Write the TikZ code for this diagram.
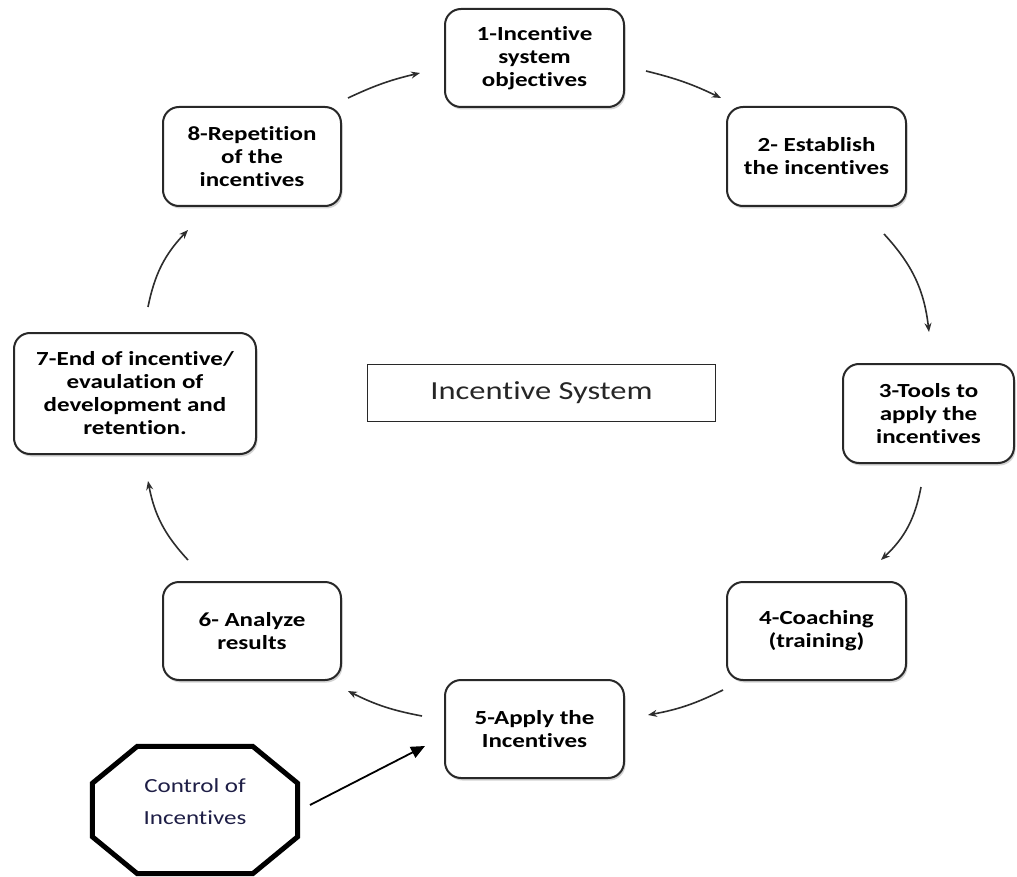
\documentclass[tikz,border=0pt]{standalone}
\usepackage{fontspec}
\setmainfont{Carlito}[FakeStretch=1.25,Ligatures=NoCommon]
\usetikzlibrary{arrows.meta,shadows}
\definecolor{boxline}{RGB}{40,40,40}
\definecolor{arrowcol}{RGB}{45,45,45}
\definecolor{ctrltext}{RGB}{30,30,70}
\begin{document}
\begin{tikzpicture}[x=1pt,y=-1pt,
  stepbox/.style={draw=boxline, line width=2pt, rounded corners=16pt, fill=white,
    align=center, inner sep=0pt, text=black,
    font=\bfseries\fontsize{20}{23}\selectfont,
    drop shadow={shadow xshift=1.5pt, shadow yshift=-2.5pt, opacity=0.35}},
  titlebox/.style={draw=boxline, line width=1.6pt, fill=white, inner sep=0pt,
    font=\fontsize{26}{30}\selectfont, text=black!85},
  ctrlbox/.style={draw=none, inner sep=0pt, align=center, text=ctrltext,
    font=\fontsize{20}{32}\selectfont},
  octo/.style={draw=black, line width=5pt, line join=miter},
  flow/.style={draw=arrowcol, line width=1.6pt, -{Stealth[length=9pt,width=7pt]}},
  ctrlarrow/.style={draw=black, line width=1.8pt, -{Triangle[length=14pt,width=12pt]}}
]
\useasboundingbox (0,0) rectangle (1017,877);
\fill[white] (0,0) rectangle (1017,877);

% step boxes
\node[stepbox, minimum width=179pt, minimum height=98pt] (b1) at (534.5,58) {1-Incentive\\system\\objectives};
\node[stepbox, minimum width=179pt, minimum height=99pt] (b2) at (816.5,156.5) {2- Establish\\the incentives};
\node[stepbox, minimum width=171pt, minimum height=99pt] (b3) at (928.5,413.5) {3-Tools to\\apply the\\incentives};
\node[stepbox, minimum width=179pt, minimum height=98pt] (b4) at (816.5,631) {4-Coaching\\(training)};
\node[stepbox, minimum width=179pt, minimum height=98pt] (b5) at (534.5,729) {5-Apply the\\Incentives};
\node[stepbox, minimum width=178pt, minimum height=98pt] (b6) at (252,631) {6- Analyze\\results};
\node[stepbox, minimum width=242pt, minimum height=121pt] (b7) at (135,393.5) {7-End of incentive/\\evaulation of\\development and\\retention.};
\node[stepbox, minimum width=178pt, minimum height=99pt] (b8) at (252,156.5) {8-Repetition\\of the\\incentives};

% centre title
\node[titlebox, minimum width=348pt, minimum height=57pt] (title) at (541.5,393) {Incentive System};

% control octagon
\node[ctrlbox, minimum width=205pt, minimum height=127pt] (ctrl) at (195,810) {};
\node[ctrlbox] (ctrltxt) at (195,802) {Control of\\Incentives};
\draw[octo] ([xshift=45pt]ctrl.north west) -- ([xshift=-45pt]ctrl.north east)
  -- ([yshift=-37pt]ctrl.north east) -- ([yshift=37pt]ctrl.south east)
  -- ([xshift=-45pt]ctrl.south east) -- ([xshift=45pt]ctrl.south west)
  -- ([yshift=37pt]ctrl.south west) -- ([yshift=-37pt]ctrl.north west) -- cycle;

% arrow end points
\coordinate (a81s) at (348,98);  \coordinate (a81e) at (420,73);
\coordinate (a12s) at (646,71);  \coordinate (a12e) at (721,98);
\coordinate (a23s) at (884,234); \coordinate (a23e) at (929,332);
\coordinate (a34s) at (921,487); \coordinate (a34e) at (881,560);
\coordinate (a45s) at (723,690); \coordinate (a45e) at (648,715);
\coordinate (a56s) at (422,716); \coordinate (a56e) at (348,691);
\coordinate (a67s) at (188,560); \coordinate (a67e) at (148,481);
\coordinate (a78s) at (148,307); \coordinate (a78e) at (188,230);
\coordinate (acs) at (310,805);  \coordinate (ace) at (425,746);

\draw[flow] (a81s) to[bend left=6] (a81e);
\draw[flow] (a12s) to[bend left=6] (a12e);
\draw[flow] (a23s) to[bend left=18] (a23e);
\draw[flow] (a34s) to[bend left=18] (a34e);
\draw[flow] (a45s) to[bend left=8] (a45e);
\draw[flow] (a56s) to[bend left=8] (a56e);
\draw[flow] (a67s) to[bend left=16] (a67e);
\draw[flow] (a78s) to[bend left=16] (a78e);
\draw[ctrlarrow] (acs) -- (ace);
\end{tikzpicture}
\end{document}
